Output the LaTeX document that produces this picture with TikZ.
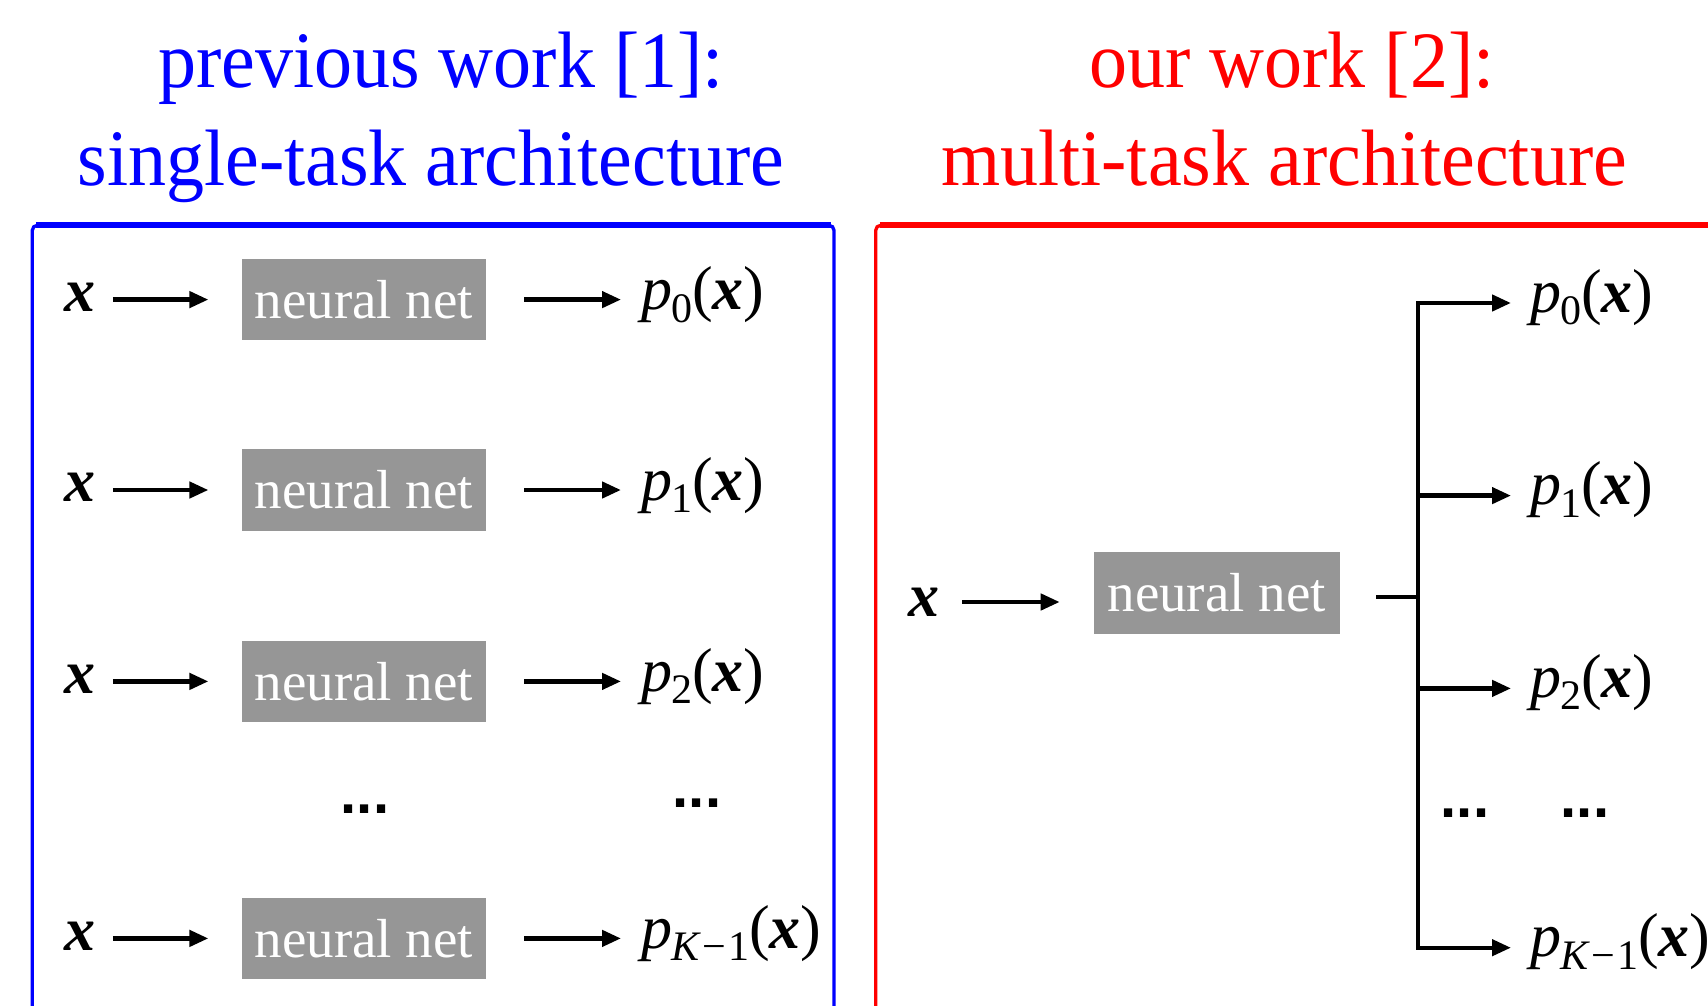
\documentclass[tikz,border=0pt]{standalone}
\usepackage{fontspec}
\setmainfont{Liberation Serif}
\newfontfamily\titlefont[FakeStretch=0.95]{Liberation Serif}
\newfontfamily\dotfont{Liberation Sans}
\usetikzlibrary{arrows.meta,calc}
\definecolor{nngray}{RGB}{150,150,150}
\definecolor{fblue}{RGB}{0,0,255}
\definecolor{fred}{RGB}{255,0,0}
\newcommand\plab[1]{\textit{p}\kern-0.02em\raisebox{-0.2em}{\fontsize{21}{21}\selectfont #1}(\textbf{\textit{x}})}
\newcommand\bx{\textbf{\textit{x}}}
\tikzset{
  nnbox/.style={fill=nngray, text=white, minimum width=122pt, minimum height=40.8pt, inner sep=0pt,
    font=\fontsize{27.5}{30}\selectfont},
  xin/.style={inner sep=0pt, font=\fontsize{31}{31}\selectfont},
  plabel/.style={inner sep=0pt, anchor=base west, font=\fontsize{31}{31}\selectfont},
  dotsnode/.style={inner sep=0pt, font=\dotfont\bfseries\fontsize{29}{29}\selectfont},
  ttl/.style={inner sep=0pt, anchor=base, font=\titlefont\fontsize{40}{40}\selectfont},
  arr/.style={line width=2.2pt, -{Triangle[length=9.5pt,width=8pt]}},
  bar/.style={line width=2.2pt},
  framel/.style={line width=1.65pt, rounded corners=2.5pt},
}
\begin{document}
\begin{tikzpicture}[x=0.5pt,y=-0.5pt]
\useasboundingbox (0,0) rectangle (1708,1006);
\begin{scope}
\clip (0,0) rectangle (1708,1006);
% titles
\node[ttl, text=fblue] (t1a) at (441,88) {previous work [1]:};
\node[ttl, text=fblue] (t1b) at (431,185) {single-task architecture};
\node[ttl, text=fred] (t2a) at (1292,88) {our work [2]:};
\node[ttl, text=fred] (t2b) at (1284,185) {multi-task architecture};
% frames
\draw[framel, fblue] (32.3,1040) -- (32.3,225.3) -- (834,225.3) -- (834,1040);
\draw[fblue, line width=3pt] (36,225.3) -- (830.5,225.3);
\draw[framel, fred] (875.7,1040) -- (875.7,225.3) -- (1740,225.3);
\draw[fred, line width=3pt] (879.5,225.3) -- (1740,225.3);
% left rows
\foreach \i/\r/\s in {0/299.6/0, 1/490/1, 2/681.4/2, 3/938.4/{\textit{K}\kern0.04em−\kern0.04em1}}{
  \node[xin] (x\i) at (80,\r-2.5) {\bx};
  \node[nnbox] (nn\i) at (363.8,\r) {neural net};
  \node[plabel] (p\i) at (641,\r+10) {\plab{\s}};
  \draw[arr, shorten <=8.5pt, shorten >=16.5pt] (nn\i.west -| x\i.east) -- (nn\i.west);
  \draw[arr, shorten <=19pt, shorten >=10pt] (nn\i.east) -- (nn\i.east -| p\i.west);
}
\node[dotsnode] (d1) at (365,809) {...};
\node[dotsnode] (d2) at (697,803) {...};
% right panel
\node[xin] (xr) at (924,602) {\bx};
\node[nnbox, minimum width=123pt] (nnr) at (1216.7,593) {neural net};
\draw[arr, shorten <=11.25pt, shorten >=16.8pt] (xr.east) -- (xr.east -| nnr.west);
\coordinate (bm) at (1418,597);
\coordinate (b0) at (1418,303);
\coordinate (b1) at (1418,495.6);
\coordinate (b2) at (1418,688.4);
\coordinate (b3) at (1418,947.7);
\draw[bar, shorten <=18pt] (nnr.east |- bm) -- (bm);
\draw[bar, line cap=rect] (b0) -- (b3);
\foreach \i/\s in {0/0, 1/1, 2/2, 3/{\textit{K}\kern0.04em−\kern0.04em1}}{
  \node[plabel] (q\i) at ($(b\i)+(112,9)$) {\plab{\s}};
  \draw[arr, shorten >=9.5pt] (b\i) -- (b\i -| q\i.west);
}
\node[dotsnode] (d3) at (1465,813) {...};
\node[dotsnode] (d4) at (1585,813) {...};
\end{scope}
\end{tikzpicture}
\end{document}
